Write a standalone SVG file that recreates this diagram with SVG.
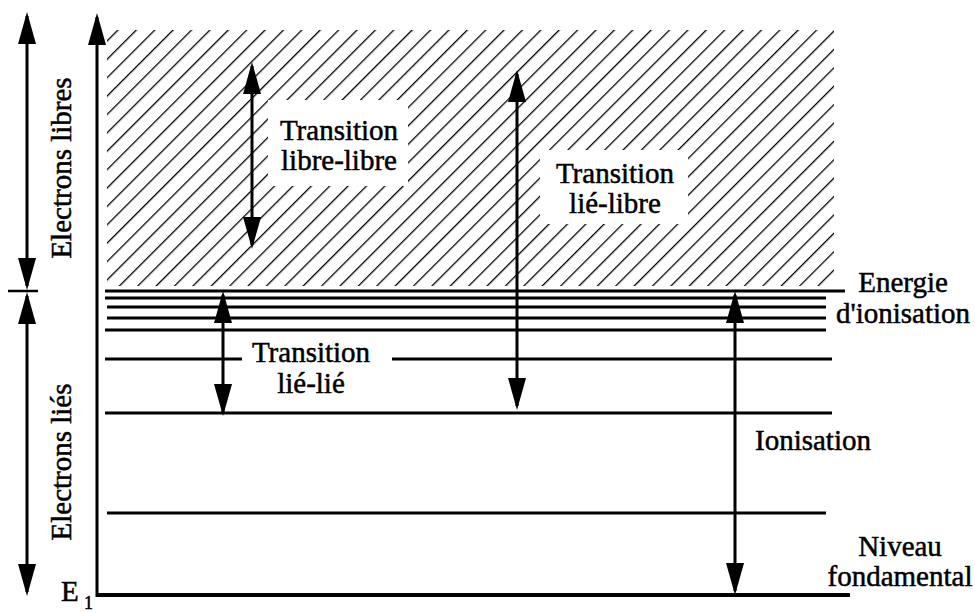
<svg xmlns="http://www.w3.org/2000/svg" width="975" height="613" viewBox="0 0 975 613">
<style>
text{font-family:'Liberation Serif','DejaVu Serif','Times New Roman',Times,serif;font-size:29px;fill:#000;stroke:#000;stroke-width:0.5}
.lvl{stroke:#000;stroke-width:2.8;fill:none}
.arr{stroke:#000;stroke-width:3;fill:none;marker-start:url(#ah);marker-end:url(#ah)}
</style>
<defs>
<pattern id="hatch" width="13" height="13" patternUnits="userSpaceOnUse" patternTransform="rotate(45)">
<line x1="0" y1="0" x2="0" y2="13" stroke="#000" stroke-width="2.6"/>
</pattern>
<marker id="ah" viewBox="0 -9 32 18" refX="28" refY="0" markerWidth="32" markerHeight="18" markerUnits="userSpaceOnUse" orient="auto-start-reverse">
<path d="M0,-9 L32,0 L0,9 z" fill="#000"/>
</marker>
</defs>
<g id="hatched-region">
<rect x="107" y="30" width="727" height="256" fill="url(#hatch)"/>
<rect x="268" y="100" width="140" height="86" fill="#fff"/>
<rect x="540" y="150" width="148" height="74" fill="#fff"/>
</g>
<g id="levels">
<line class="lvl" x1="105" y1="291" x2="845" y2="291"/>
<line class="lvl" x1="105" y1="298" x2="826" y2="298"/>
<line class="lvl" x1="107" y1="307" x2="826" y2="307"/>
<line class="lvl" x1="107" y1="318" x2="826" y2="318"/>
<line class="lvl" x1="105" y1="330" x2="826" y2="330"/>
<line class="lvl" x1="105" y1="359" x2="242" y2="359"/>
<line class="lvl" x1="392" y1="359" x2="832" y2="359"/>
<line class="lvl" x1="105" y1="413" x2="832" y2="413"/>
<line class="lvl" x1="107" y1="513" x2="826" y2="513"/>
<line x1="97" y1="595" x2="850" y2="595" stroke="#000" stroke-width="4"/>
</g>
<g id="axes">
<line x1="97" y1="17" x2="97" y2="597" stroke="#000" stroke-width="3" marker-start="url(#ah)"/>
<line x1="8" y1="291" x2="38" y2="291" stroke="#000" stroke-width="2.5"/>
</g>
<g id="connectors">
<line class="arr" x1="27" y1="16" x2="27" y2="286"/>
<line class="arr" x1="27" y1="296" x2="27" y2="592"/>
<line class="arr" x1="252" y1="66" x2="252" y2="245"/>
<line class="arr" x1="517" y1="74" x2="517" y2="406"/>
<line class="arr" x1="223" y1="295" x2="223" y2="412"/>
<line class="arr" x1="735" y1="295" x2="735" y2="591"/>
</g>
<g id="label-electrons-libres"><text transform="translate(71,168) rotate(-90)" text-anchor="middle">Electrons libres</text></g>
<g id="label-electrons-lies"><text transform="translate(71,462) rotate(-90)" text-anchor="middle">Electrons liés</text></g>
<g id="label-libre-libre"><text x="339" y="140" text-anchor="middle">Transition</text><text x="339" y="170" text-anchor="middle">libre-libre</text></g>
<g id="label-lie-libre"><text x="615" y="183" text-anchor="middle">Transition</text><text x="615" y="213" text-anchor="middle">lié-libre</text></g>
<g id="label-lie-lie"><text x="311" y="362" text-anchor="middle">Transition</text><text x="311" y="393" text-anchor="middle">lié-lié</text></g>
<g id="label-energie"><text x="903" y="292" text-anchor="middle">Energie</text><text x="903" y="323" text-anchor="middle">d'ionisation</text></g>
<g id="label-ionisation"><text x="755" y="450">Ionisation</text></g>
<g id="label-niveau"><text x="900" y="556" text-anchor="middle">Niveau</text><text x="900" y="586" text-anchor="middle">fondamental</text></g>
<g id="label-e1"><text x="61" y="601">E</text><text x="84" y="609" style="font-size:18px">1</text></g>
</svg>
